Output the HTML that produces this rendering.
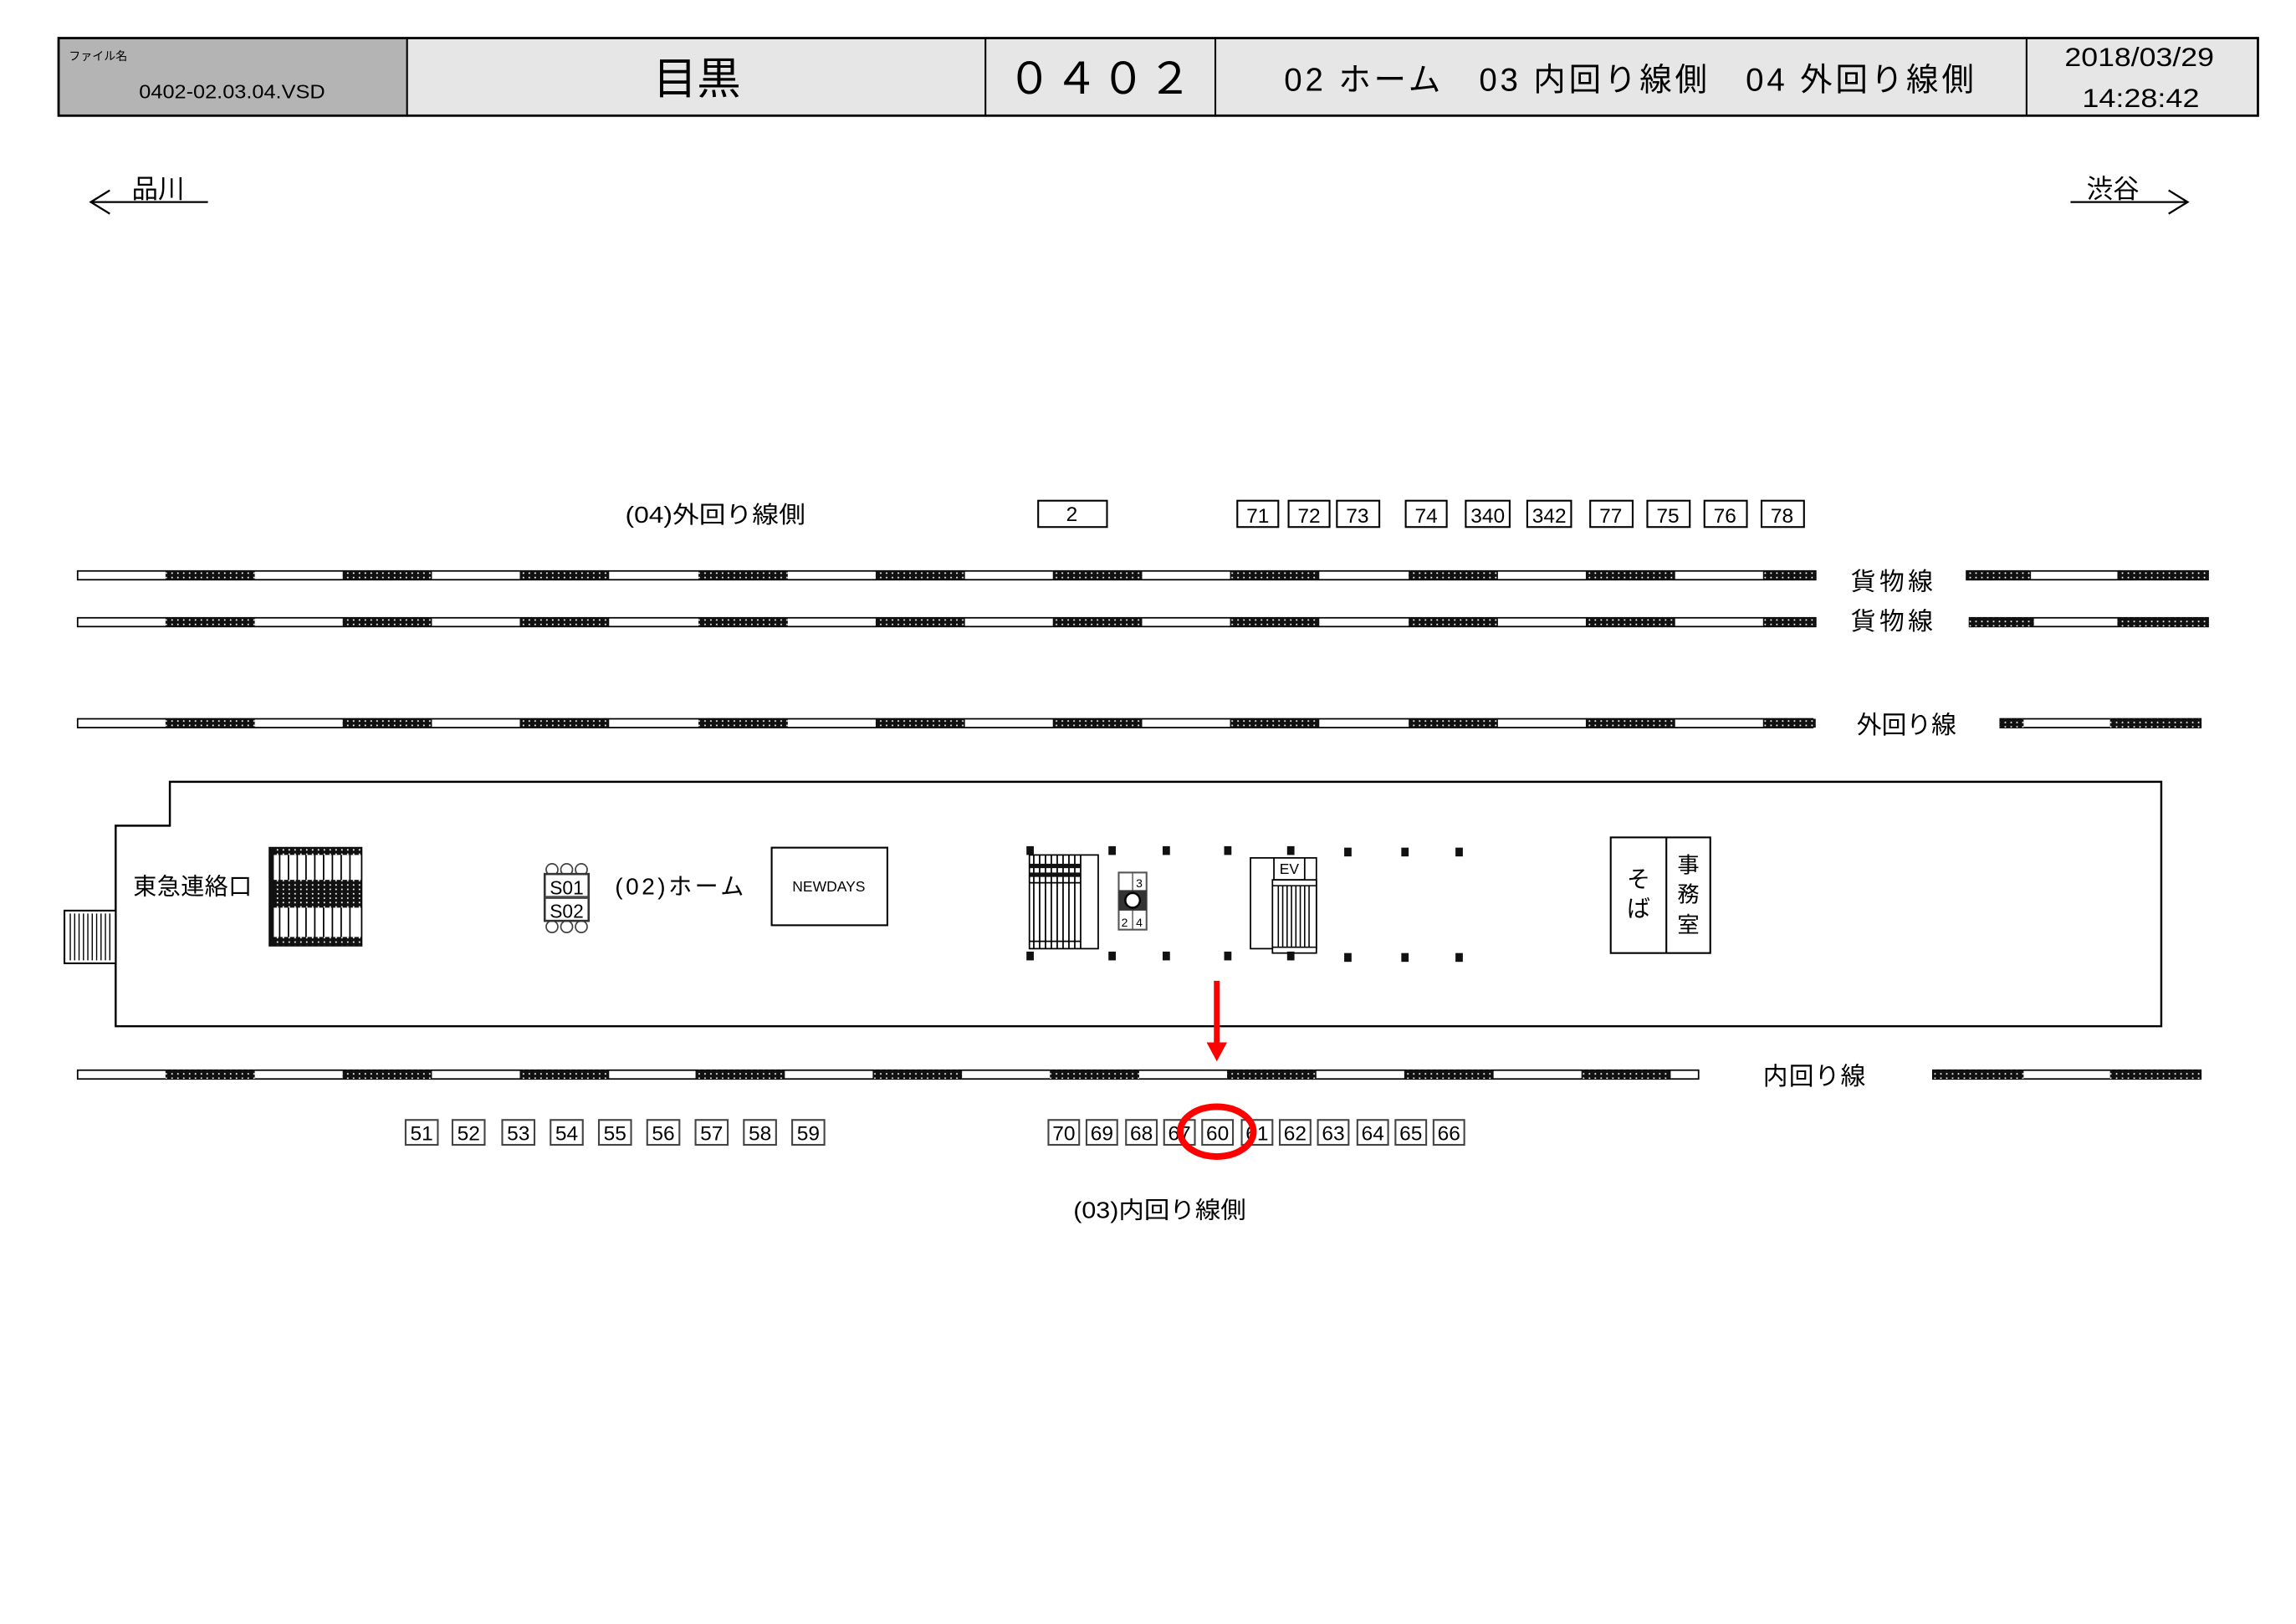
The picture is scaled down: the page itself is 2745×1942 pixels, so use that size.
<!DOCTYPE html>
<html><head><meta charset="utf-8"><style>
html,body{margin:0;padding:0;background:#fff;}
svg{display:block;}
text{font-family:"Liberation Sans","Noto Sans CJK JP",sans-serif;fill:#000;}
</style></head><body>
<svg width="2745" height="1942" viewBox="0 0 1568 1109.3" xmlns="http://www.w3.org/2000/svg">
<defs>
<pattern id="hp" width="4" height="3" patternUnits="userSpaceOnUse">
<rect width="4" height="3" fill="#111"/><rect x="1" y="1" width="1" height="1" fill="#fff"/>
</pattern>
</defs>
<rect width="1568" height="1109.3" fill="#fff"/>

<!-- header -->
<rect x="40" y="26" width="238" height="53" fill="#b4b4b4"/>
<rect x="278" y="26" width="1264" height="53" fill="#e6e6e6"/>
<rect x="40" y="26" width="1502" height="53" fill="none" stroke="#000" stroke-width="1.6"/>
<g stroke="#000" stroke-width="1.2">
<line x1="278" y1="26" x2="278" y2="79"/><line x1="673" y1="26" x2="673" y2="79"/>
<line x1="830" y1="26" x2="830" y2="79"/><line x1="1384" y1="26" x2="1384" y2="79"/>
</g>
<text x="47" y="41" font-size="8">ファイル名</text>
<text x="95" y="67" font-size="13" textLength="127" lengthAdjust="spacingAndGlyphs">0402-02.03.04.VSD</text>
<text x="476" y="64" font-size="30" text-anchor="middle">目黒</text>
<text x="752" y="64" font-size="30" text-anchor="middle" letter-spacing="2">０４０２</text>
<text x="877" y="62" font-size="22" textLength="471" lengthAdjust="spacing">02 ホーム　03 内回り線側　04 外回り線側</text>
<text x="1410" y="45" font-size="18" textLength="102" lengthAdjust="spacingAndGlyphs">2018/03/29</text>
<text x="1422" y="73" font-size="18" textLength="80" lengthAdjust="spacingAndGlyphs">14:28:42</text>

<!-- direction arrows -->
<g stroke="#000" stroke-width="1.3" fill="none">
<line x1="62" y1="138" x2="142" y2="138"/><polyline points="75,130 62,138 75,146"/>
<line x1="1414" y1="138" x2="1494" y2="138"/><polyline points="1481,130 1494,138 1481,146"/>
</g>
<text x="90" y="135" font-size="18">品川</text>
<text x="1425" y="135" font-size="18">渋谷</text>

<!-- labels top -->
<text x="427" y="357" font-size="16" textLength="123" lengthAdjust="spacingAndGlyphs">(04)外回り線側</text>
<g fill="#fff" stroke="#000" stroke-width="1.2">
<rect x="709" y="342" width="47" height="18"/>
<rect x="845" y="342" width="28" height="18"/><rect x="880" y="342" width="28" height="18"/><rect x="913" y="342" width="29" height="18"/>
<rect x="960" y="342" width="28" height="18"/><rect x="1001" y="342" width="30" height="18"/><rect x="1043" y="342" width="30" height="18"/>
<rect x="1086" y="342" width="29" height="18"/><rect x="1125" y="342" width="29" height="18"/><rect x="1164" y="342" width="29" height="18"/><rect x="1203" y="342" width="29" height="18"/>
</g>
<g font-size="14" text-anchor="middle">
<text x="732" y="356">2</text>
<text x="859" y="357">71</text><text x="894" y="357">72</text><text x="927" y="357">73</text><text x="974" y="357">74</text>
<text x="1016" y="357">340</text><text x="1058" y="357">342</text><text x="1100" y="357">77</text><text x="1139" y="357">75</text>
<text x="1178" y="357">76</text><text x="1217" y="357">78</text>
</g>

<!-- tracks -->
<g stroke="#000" stroke-width="1">
<rect x="53" y="390" width="1187" height="6" fill="#fff"/>
<rect x="53" y="422" width="1187" height="6" fill="#fff"/>
<rect x="53" y="491" width="1185" height="6" fill="#fff"/>
<rect x="53" y="731" width="1107" height="6" fill="#fff"/>
<rect x="1343" y="390" width="165" height="6" fill="#fff"/>
<rect x="1345" y="422" width="163" height="6" fill="#fff"/>
<rect x="1366" y="491" width="137" height="6" fill="#fff"/>
<rect x="1320" y="731" width="183" height="6" fill="#fff"/>
</g>
<g fill="url(#hp)">
<g id="seg1">
<rect x="113" y="390" width="61" height="6"/><rect x="234" y="390" width="61" height="6"/><rect x="355" y="390" width="61" height="6"/>
<rect x="477" y="390" width="61" height="6"/><rect x="598" y="390" width="61" height="6"/><rect x="719" y="390" width="61" height="6"/>
<rect x="840" y="390" width="61" height="6"/><rect x="962" y="390" width="61" height="6"/><rect x="1083" y="390" width="61" height="6"/>
<rect x="1204" y="390" width="36" height="6"/>
</g>
<use href="#seg1" y="32"/>
<use href="#seg1" y="101"/>
<rect x="113" y="731" width="61" height="6"/><rect x="234" y="731" width="61" height="6"/><rect x="355" y="731" width="61" height="6"/>
<rect x="475" y="731" width="61" height="6"/><rect x="596" y="731" width="61" height="6"/><rect x="717" y="731" width="61" height="6"/>
<rect x="838" y="731" width="61" height="6"/><rect x="959" y="731" width="61" height="6"/><rect x="1080" y="731" width="61" height="6"/>
<rect x="1343" y="390" width="44" height="6"/><rect x="1446" y="390" width="62" height="6"/>
<rect x="1345" y="422" width="44" height="6"/><rect x="1446" y="422" width="62" height="6"/>
<rect x="1366" y="491" width="16" height="6"/><rect x="1441" y="491" width="62" height="6"/>
<rect x="1320" y="731" width="62" height="6"/><rect x="1441" y="731" width="62" height="6"/>
</g>
<text x="1264" y="403" font-size="17" textLength="56">貨物線</text>
<text x="1264" y="430" font-size="17" textLength="56">貨物線</text>
<text x="1268" y="501" font-size="17" textLength="68">外回り線</text>
<text x="1204" y="741" font-size="17" textLength="70">内回り線</text>

<!-- platform -->
<polygon points="116,534 1476,534 1476,701 79,701 79,564 116,564" fill="none" stroke="#000" stroke-width="1.4"/>
<rect x="44" y="622" width="35" height="36" fill="#fff" stroke="#000" stroke-width="1.2"/>
<g stroke="#000" stroke-width="0.8">
<line x1="48" y1="624" x2="48" y2="656"/><line x1="51" y1="624" x2="51" y2="656"/><line x1="54" y1="624" x2="54" y2="656"/>
<line x1="57" y1="624" x2="57" y2="656"/><line x1="60" y1="624" x2="60" y2="656"/><line x1="63" y1="624" x2="63" y2="656"/>
<line x1="66" y1="624" x2="66" y2="656"/><line x1="69" y1="624" x2="69" y2="656"/><line x1="72" y1="624" x2="72" y2="656"/><line x1="75" y1="624" x2="75" y2="656"/>
</g>
<text x="91" y="611" font-size="16" textLength="81">東急連絡口</text>

<!-- left stairs -->
<rect x="184" y="579" width="63" height="67" fill="#fff" stroke="#000" stroke-width="1"/>
<g stroke="#000" stroke-width="1">
<line x1="191" y1="579" x2="191" y2="646"/><line x1="197" y1="579" x2="197" y2="646"/><line x1="203" y1="579" x2="203" y2="646"/>
<line x1="209" y1="579" x2="209" y2="646"/><line x1="215" y1="579" x2="215" y2="646"/><line x1="221" y1="579" x2="221" y2="646"/>
<line x1="227" y1="579" x2="227" y2="646"/><line x1="233" y1="579" x2="233" y2="646"/><line x1="239" y1="579" x2="239" y2="646"/>
</g>
<rect x="184" y="579" width="63" height="5" fill="url(#hp)"/>
<rect x="184" y="601" width="63" height="19" fill="url(#hp)"/>
<rect x="184" y="640" width="63" height="6" fill="url(#hp)"/>
<rect x="184" y="579" width="3" height="67" fill="#111"/>

<!-- S01/S02 -->
<g fill="#fff" stroke="#444" stroke-width="1">
<circle cx="377" cy="594" r="4"/><circle cx="387" cy="594" r="4"/><circle cx="397" cy="594" r="4"/>
<circle cx="377" cy="633" r="4"/><circle cx="387" cy="633" r="4"/><circle cx="397" cy="633" r="4"/>
<rect x="372" y="597" width="30" height="32" stroke="#333" stroke-width="1.5"/>
<line x1="372" y1="613" x2="402" y2="613" stroke-width="2"/>
</g>
<text x="387" y="611" font-size="13" text-anchor="middle">S01</text>
<text x="387" y="627" font-size="13" text-anchor="middle">S02</text>
<text x="420" y="611" font-size="16" textLength="88">(02)ホーム</text>
<rect x="527" y="579" width="79" height="53" fill="#fff" stroke="#000" stroke-width="1.2"/>
<text x="566" y="609" font-size="10" text-anchor="middle">NEWDAYS</text>

<!-- center stairs -->
<rect x="703" y="584" width="47" height="64" fill="#fff" stroke="#000" stroke-width="1"/>
<g stroke="#000" stroke-width="1">
<line x1="706" y1="584" x2="706" y2="648"/><line x1="710" y1="584" x2="710" y2="648"/><line x1="714" y1="584" x2="714" y2="648"/>
<line x1="718" y1="584" x2="718" y2="648"/><line x1="722" y1="584" x2="722" y2="648"/><line x1="726" y1="584" x2="726" y2="648"/>
<line x1="730" y1="584" x2="730" y2="648"/><line x1="734" y1="584" x2="734" y2="648"/>
<line x1="738" y1="584" x2="738" y2="648"/><line x1="703" y1="603" x2="738" y2="603"/><line x1="703" y1="643" x2="738" y2="643"/>
</g>
<rect x="703" y="590" width="35" height="3" fill="#111"/><rect x="703" y="596" width="35" height="3" fill="#111"/>
<!-- clock -->
<rect x="764" y="596" width="19" height="39" fill="#fff" stroke="#555" stroke-width="1.2"/>
<line x1="773.5" y1="596" x2="773.5" y2="635" stroke="#555" stroke-width="0.8"/>
<rect x="764" y="608" width="19" height="14" fill="#333"/>
<circle cx="773.5" cy="615" r="5" fill="#fff" stroke="#000" stroke-width="1.4"/>
<text x="778" y="606" font-size="8" text-anchor="middle">3</text><text x="768" y="633" font-size="8" text-anchor="middle">2</text><text x="778" y="633" font-size="8" text-anchor="middle">4</text>
<!-- EV -->
<rect x="854" y="586" width="45" height="62" fill="#fff" stroke="#000" stroke-width="1"/>
<rect x="870" y="586" width="21" height="15" fill="#fff" stroke="#000" stroke-width="1"/>
<text x="880.5" y="597" font-size="10" text-anchor="middle">EV</text>
<rect x="869" y="601" width="30" height="50" fill="#fff" stroke="#000" stroke-width="1"/>
<g stroke="#000" stroke-width="0.9">
<line x1="873" y1="605" x2="873" y2="647"/><line x1="876" y1="605" x2="876" y2="647"/><line x1="879" y1="605" x2="879" y2="647"/>
<line x1="882" y1="605" x2="882" y2="647"/><line x1="885" y1="605" x2="885" y2="647"/><line x1="888" y1="605" x2="888" y2="647"/>
<line x1="891" y1="605" x2="891" y2="647"/><line x1="894" y1="605" x2="894" y2="647"/>
<line x1="869" y1="605" x2="899" y2="605"/><line x1="869" y1="647" x2="899" y2="647"/>
</g>
<!-- columns -->
<g fill="#111">
<rect x="701" y="578" width="5" height="6"/><rect x="757" y="578" width="5" height="6"/><rect x="794" y="578" width="5" height="6"/>
<rect x="836" y="578" width="5" height="6"/><rect x="879" y="578" width="5" height="6"/><rect x="918" y="579" width="5" height="6"/>
<rect x="957" y="579" width="5" height="6"/><rect x="994" y="579" width="5" height="6"/>
<rect x="701" y="650" width="5" height="6"/><rect x="757" y="650" width="5" height="6"/><rect x="794" y="650" width="5" height="6"/>
<rect x="836" y="650" width="5" height="6"/><rect x="879" y="650" width="5" height="6"/><rect x="918" y="651" width="5" height="6"/>
<rect x="957" y="651" width="5" height="6"/><rect x="994" y="651" width="5" height="6"/>
</g>
<!-- soba / office -->
<rect x="1100" y="572" width="68" height="79" fill="#fff" stroke="#000" stroke-width="1.2"/>
<line x1="1138" y1="572" x2="1138" y2="651" stroke="#000" stroke-width="1.2"/>
<text x="1119" y="606" font-size="16" text-anchor="middle">そ</text>
<text x="1119" y="626" font-size="16" text-anchor="middle">ば</text>
<text x="1153" y="596" font-size="15" text-anchor="middle">事</text>
<text x="1153" y="616" font-size="15" text-anchor="middle">務</text>
<text x="1153" y="637" font-size="15" text-anchor="middle">室</text>

<!-- lower number boxes -->
<g fill="#fff" stroke="#444" stroke-width="1.2">
<rect x="277" y="765" width="22" height="17"/><rect x="309" y="765" width="22" height="17"/><rect x="343" y="765" width="22" height="17"/>
<rect x="376" y="765" width="22" height="17"/><rect x="409" y="765" width="22" height="17"/><rect x="442" y="765" width="22" height="17"/>
<rect x="475" y="765" width="22" height="17"/><rect x="508" y="765" width="22" height="17"/><rect x="541" y="765" width="22" height="17"/>
<rect x="716" y="765" width="21" height="17"/><rect x="742" y="765" width="21" height="17"/><rect x="769" y="765" width="21" height="17"/>
<rect x="795" y="765" width="21" height="17"/><rect x="821" y="765" width="21" height="17"/><rect x="848" y="765" width="21" height="17"/>
<rect x="874" y="765" width="21" height="17"/><rect x="900" y="765" width="21" height="17"/><rect x="927" y="765" width="21" height="17"/>
<rect x="953" y="765" width="21" height="17"/><rect x="979" y="765" width="21" height="17"/>
</g>
<g font-size="14" text-anchor="middle">
<text x="288" y="779">51</text><text x="320" y="779">52</text><text x="354" y="779">53</text><text x="387" y="779">54</text>
<text x="420" y="779">55</text><text x="453" y="779">56</text><text x="486" y="779">57</text><text x="519" y="779">58</text><text x="552" y="779">59</text>
<text x="726.5" y="779">70</text><text x="752.5" y="779">69</text><text x="779.5" y="779">68</text><text x="805.5" y="779">67</text>
<text x="831.5" y="779">60</text><text x="858.5" y="779">61</text><text x="884.5" y="779">62</text><text x="910.5" y="779">63</text>
<text x="937.5" y="779">64</text><text x="963.5" y="779">65</text><text x="989.5" y="779">66</text>
</g>
<text x="733" y="832" font-size="16" textLength="118" lengthAdjust="spacingAndGlyphs">(03)内回り線側</text>

<!-- red highlight -->
<line x1="831" y1="670" x2="831" y2="714" stroke="#f00" stroke-width="4"/>
<polygon points="824,712 838,712 831,725" fill="#f00"/>
<ellipse cx="831" cy="773" rx="25" ry="17" fill="none" stroke="#f00" stroke-width="4.5"/>
</svg>
</body></html>
